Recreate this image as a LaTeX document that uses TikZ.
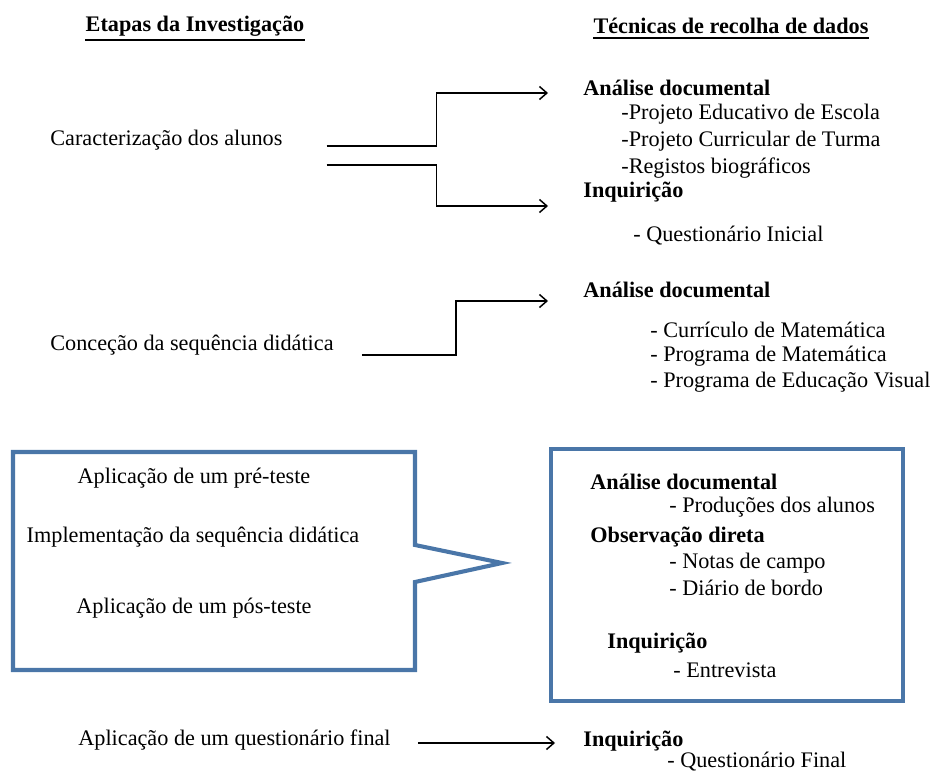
\documentclass[tikz,border=0pt]{standalone}
\usepackage{fontspec}
\setmainfont{Liberation Serif}
\usetikzlibrary{arrows.meta,positioning,calc}
\definecolor{calloutBlue}{HTML}{4A76A8}

\begin{document}
\begin{tikzpicture}[x=0.54pt,y=-0.54pt,
  txt/.style={anchor=west,inner sep=0pt,font=\fontsize{12}{14}\selectfont},
  bld/.style={txt,font=\fontsize{12}{14}\selectfont\bfseries},
  hdr/.style={inner sep=0pt,font=\fontsize{12}{14}\selectfont\bfseries},
  conn/.style={line width=0.8pt,-{Straight Barb[length=4pt,width=7pt]}},
  bluebox/.style={draw=calloutBlue,line width=2.2pt}]
\useasboundingbox (0,0) rectangle (933,774);

% headings
\node[hdr] (hEtapas)   at (195,26) {Etapas da Investigação};
\node[hdr] (hTecnicas) at (731,26) {Técnicas de recolha de dados};
\draw[line width=1pt] ([yshift=-2pt]hEtapas.south west) -- ([yshift=-2pt]hEtapas.south east);
\draw[line width=1pt] ([yshift=-2pt]hTecnicas.south west) -- ([yshift=-2pt]hTecnicas.south east);

% stage 1
\node[txt] (caract) at (50,140) {Caracterização dos alunos};
\node[bld] (adA) at (583,88) {Análise documental};
\node[txt] (pee) at (621,114) {-Projeto Educativo de Escola};
\node[txt] (pct) at (621,141) {-Projeto Curricular de Turma};
\node[txt] (rb)  at (621,168) {-Registos biográficos};
\node[bld] (inqA) at (583,192) {Inquirição};
\node[txt] (qi)  at (633,236) {- Questionário Inicial};
\coordinate (caractUp) at ($(caract.east)+(44,6)$);
\coordinate (caractDn) at ($(caract.east)+(44,25)$);
\coordinate (tipA) at ($(adA.west)+(-35,5)$);
\coordinate (tipB) at ($(inqA.west)+(-35,14)$);
\draw[conn] (caractUp) -- ++(110,0) |- (tipA);
\draw[conn] (caractDn) -- ++(110,0) |- (tipB);

% stage 2
\node[txt] (concecao) at (50,345) {Conceção da sequência didática};
\node[bld] (adB) at (583,290) {Análise documental};
\node[txt] (cm)  at (650,330) {- Currículo de Matemática};
\node[txt] (pm)  at (650,356) {- Programa de Matemática};
\node[txt] (pev) at (650,382) {- Programa de Educação Visual};
\coordinate (concecaoOut) at ($(concecao.east)+(28,10)$);
\coordinate (tipC) at ($(adB.west)+(-35,11)$);
\draw[conn] (concecaoOut) -- ++(94,0) |- (tipC);

% stage 3 (callout)
\draw[bluebox] (13,452) -- (415,452) -- (415,545) -- (502,563) -- (415,582)
  -- (415,670) -- (13,670) -- cycle;
\node[txt,anchor=center] (preteste) at (194,478) {Aplicação de um pré-teste};
\node[txt,anchor=center] (implem)   at (193,537) {Implementação da sequência didática};
\node[txt,anchor=center] (posteste) at (194,608) {Aplicação de um pós-teste};

\draw[bluebox] (551,449) rectangle (903,701);
\node[bld] (adC) at (590,482) {Análise documental};
\node[txt] (prod) at (669,507) {- Produções dos alunos};
\node[bld] (obs)  at (590,537) {Observação direta};
\node[txt] (nc)   at (669,563) {- Notas de campo};
\node[txt] (db)   at (669,588) {- Diário de bordo};
\node[bld] (inqC) at (607,643) {Inquirição};
\node[txt] (ent)  at (673,670) {- Entrevista};

% stage 4
\node[txt] (qfinal) at (78,740) {Aplicação de um questionário final};
\node[bld] (inqD) at (583,741) {Inquirição};
\node[txt] (qf)   at (667,762) {- Questionário Final};
\coordinate (qfinalOut) at ($(qfinal.east)+(27,3)$);
\coordinate (tipD) at ($(inqD.west)+(-28,2)$);
\draw[conn] (qfinalOut) -- (tipD);
\end{tikzpicture}
\end{document}
